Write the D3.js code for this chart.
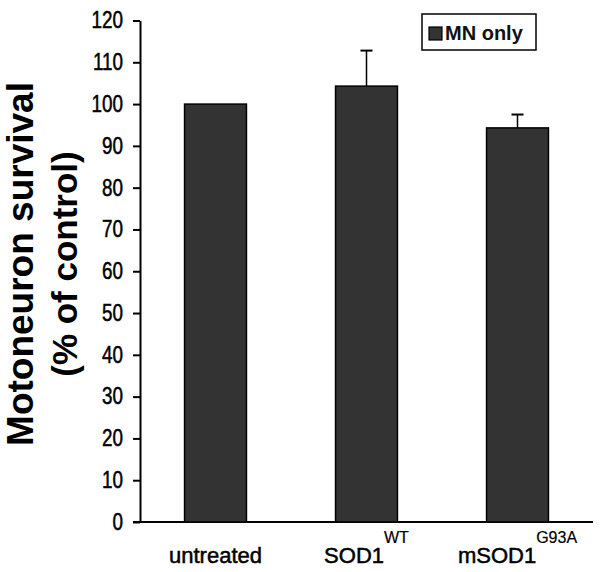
<!DOCTYPE html>
<html>
<head>
<meta charset="utf-8">
<script src="https://cdn.jsdelivr.net/npm/d3@7"></script>
<style>
  body { margin: 0; background: #fff; }
  svg { display: block; }
</style>
</head>
<body>
<script>
// ---- data ----
const categories = ["untreated", "SOD1", "mSOD1"];
const superscripts = ["", "WT", "G93A"];
const values = [100, 104.3, 94.3];
const errors = [0, 8.5, 3.2];
const yTicks = [0, 10, 20, 30, 40, 50, 60, 70, 80, 90, 100, 110, 120];
const legendLabel = "MN only";
const yTitleLines = ["Motoneuron survival", "(% of control)"];

const W = 600, H = 572;
const svg = d3.select("body").append("svg").attr("width", W).attr("height", H);

const x = d3.scaleBand().domain(categories).range([140, 593])
  .paddingInner(0.59).paddingOuter(0.295);
const y = d3.scaleLinear().domain([0, 120]).range([522, 20.5]);

const barFill = "#333333";

// y axis
const yAxis = d3.axisLeft(y).tickValues(yTicks).tickSize(7).tickPadding(10).tickSizeOuter(0);
const gy = svg.append("g").attr("transform", "translate(140,0)").call(yAxis);
gy.select(".domain").attr("stroke", "#000").attr("stroke-width", 2);
gy.selectAll(".tick line").attr("stroke", "#000").attr("stroke-width", 2);
const sx = 0.82;
gy.selectAll(".tick text")
  .attr("fill", "#000")
  .attr("stroke", "#000")
  .attr("stroke-width", 0.5)
  .attr("x", -17 / sx)
  .attr("transform", `scale(${sx},1)`)
  .style("font-family", "'Liberation Sans', Arial, sans-serif")
  .style("font-size", "23px");

// x axis line
svg.append("line")
  .attr("x1", 133).attr("x2", 593)
  .attr("y1", y(0)).attr("y2", y(0))
  .attr("stroke", "#000").attr("stroke-width", 2);

// bars
svg.selectAll("rect.bar").data(categories).enter().append("rect")
  .attr("class", "bar")
  .attr("x", d => x(d))
  .attr("width", x.bandwidth())
  .attr("y", (d, i) => y(values[i]))
  .attr("height", (d, i) => y(0) - y(values[i]))
  .attr("fill", barFill)
  .attr("stroke", "#000")
  .attr("stroke-width", 1.5);

// error bars (upper only)
const eb = svg.selectAll("g.err").data(categories.map((c, i) => ({c, v: values[i], e: errors[i]})).filter(d => d.e > 0))
  .enter().append("g").attr("class", "err");
eb.append("line")
  .attr("x1", d => x(d.c) + x.bandwidth() / 2)
  .attr("x2", d => x(d.c) + x.bandwidth() / 2)
  .attr("y1", d => y(d.v))
  .attr("y2", d => y(d.v + d.e))
  .attr("stroke", "#000").attr("stroke-width", 1.5);
eb.append("line")
  .attr("x1", d => x(d.c) + x.bandwidth() / 2 - 6)
  .attr("x2", d => x(d.c) + x.bandwidth() / 2 + 6)
  .attr("y1", d => y(d.v + d.e))
  .attr("y2", d => y(d.v + d.e))
  .attr("stroke", "#000").attr("stroke-width", 2);

// x labels
const xl = svg.selectAll("text.xl").data(categories).enter().append("text")
  .attr("class", "xl")
  .attr("x", d => x(d) + x.bandwidth() / 2)
  .attr("y", 563)
  .attr("text-anchor", "middle")
  .attr("fill", "#000")
  .style("font-family", "'Liberation Sans', Arial, sans-serif")
  .style("font-size", "22px");
xl.append("tspan")
  .attr("stroke", "#000")
  .attr("stroke-width", 0.5)
  .text(d => d);
xl.append("tspan")
  .attr("dy", -20)
  .attr("stroke", "#000")
  .attr("stroke-width", 0.2)
  .style("font-size", "16px")
  .text((d, i) => superscripts[i]);

// y title
yTitleLines.forEach((t, i) => {
  svg.append("text")
    .attr("transform", `translate(${i === 0 ? 33 : 77},264) rotate(-90)`)
    .attr("text-anchor", "middle")
    .attr("fill", "#000")
    .style("font-family", "'Liberation Sans', Arial, sans-serif")
    .style("font-weight", "bold")
    .style("font-size", i === 0 ? "37px" : "35px")
    .text(t);
});

// legend
const lg = svg.append("g");
lg.append("rect").attr("x", 422).attr("y", 14).attr("width", 114).attr("height", 36)
  .attr("fill", "#fff").attr("stroke", "#000").attr("stroke-width", 1.5);
lg.append("rect").attr("x", 429).attr("y", 27).attr("width", 13).attr("height", 13)
  .attr("fill", barFill).attr("stroke", "#000").attr("stroke-width", 1.2);
lg.append("text").attr("x", 445).attr("y", 40)
  .attr("fill", "#111")
  .style("font-family", "'Liberation Sans', Arial, sans-serif")
  .style("font-weight", "bold")
  .style("font-size", "20px")
  .text(legendLabel);
</script>
</body>
</html>
